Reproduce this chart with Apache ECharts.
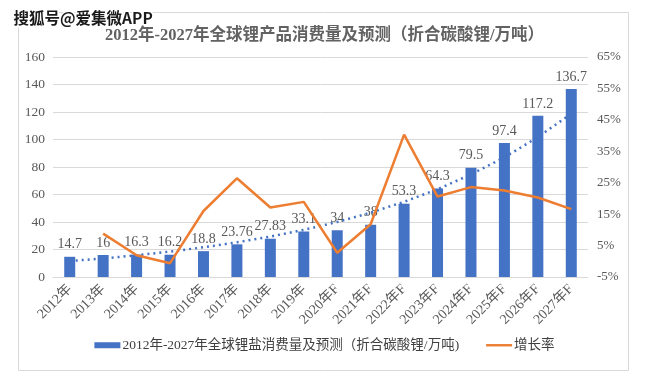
<!DOCTYPE html>
<html>
<head>
<meta charset="utf-8">
<script src="https://cdn.jsdelivr.net/npm/echarts@6/dist/echarts.min.js"></script>
<style>
html,body{margin:0;padding:0;background:#fff;}
#chart{width:649px;height:378px;}
</style>
</head>
<body>
<div id="chart"></div>
<script>
const categories = ['2012年','2013年','2014年','2015年','2016年','2017年','2018年','2019年','2020年F','2021年F','2022年F','2023年F','2024年F','2025年F','2026年F','2027年F'];
const consumption = [14.7, 16, 16.3, 16.2, 18.8, 23.76, 27.83, 33.1, 34, 38, 53.3, 64.3, 79.5, 97.4, 117.2, 136.7];
const growthRate = [null, 8.8, 1.9, -0.6, 16.0, 26.4, 17.1, 18.9, 2.7, 11.8, 40.3, 20.6, 23.6, 22.5, 20.3, 16.6];
const trendValues = [11.6, 13.5, 15.8, 18.5, 21.6, 25.2, 29.4, 34.3, 40, 46.8, 54.7, 63.8, 74.6, 87, 101.7, 118.8];
const barName = '2012年-2027年全球锂盐消费量及预测（折合碳酸锂/万吨)';
const lineName = '增长率';
const titleText = '2012年-2027年全球锂产品消费量及预测（折合碳酸锂/万吨）';
const watermark = '搜狐号@爱集微APP';

const FONT = "'Liberation Serif', 'Noto Sans CJK SC', serif";
const GRAY = '#595959';

const chart = echarts.init(document.getElementById('chart'), null, {renderer: 'canvas'});
chart.setOption({
  animation: false,
  backgroundColor: '#fff',
  title: {
    text: titleText,
    left: 'center',
    top: 22,
    textStyle: {fontFamily: FONT, fontSize: 16.5, fontWeight: 'bold', color: '#626262'}
  },
  graphic: [
    {type: 'rect', left: 16, top: 10, z: -1, shape: {width: 610, height: 358}, style: {fill: 'none', stroke: '#d9d9d9', lineWidth: 1}},
    {type: 'text', left: 12, top: 9, z: 100, style: {text: watermark, fontSize: 15.5, fontWeight: 'bold', fontFamily: "'Noto Sans CJK SC', sans-serif", fill: '#1a1a1a', stroke: '#fff', lineWidth: 3}}
  ],
  legend: {
    bottom: 21,
    left: 'center',
    itemGap: 27,
    itemWidth: 26,
    itemHeight: 6,
    textStyle: {fontFamily: FONT, fontSize: 13.5, color: '#404040', padding: [0,0,0,-3]},
    data: [
      {name: barName, icon: 'rect'},
      {name: lineName, icon: 'path://M0,0L26,0L26,2.4L0,2.4Z'}
    ]
  },
  grid: {left: 53, right: 61, top: 57, bottom: 101},
  xAxis: {
    type: 'category',
    data: categories,
    axisLine: {lineStyle: {color: '#d9d9d9'}},
    axisTick: {show: false},
    axisLabel: {rotate: 45, fontFamily: FONT, fontSize: 14, color: GRAY, margin: 10, interval: 0}
  },
  yAxis: [
    {
      type: 'value', min: 0, max: 160, interval: 20,
      axisLine: {show: false}, axisTick: {show: false},
      axisLabel: {fontFamily: FONT, fontSize: 13.5, color: GRAY, margin: 8},
      splitLine: {lineStyle: {color: '#d9d9d9'}}
    },
    {
      type: 'value', min: -5, max: 65, interval: 10,
      axisLine: {show: false}, axisTick: {show: false},
      axisLabel: {fontFamily: FONT, fontSize: 13, color: GRAY, margin: 9, formatter: '{value}%'},
      splitLine: {show: false}
    }
  ],
  series: [
    {
      name: barName,
      type: 'bar',
      data: consumption,
      barWidth: 11,
      itemStyle: {color: '#4472C4'},
      label: {show: true, position: 'top', distance: 5, fontFamily: FONT, fontSize: 14, color: GRAY}
    },
    {
      name: 'trend',
      type: 'line',
      data: trendValues,
      symbol: 'none',
      z: 3,
      lineStyle: {color: '#4472C4', width: 2.5, type: [2, 4]},
      silent: true
    },
    {
      name: lineName,
      type: 'line',
      yAxisIndex: 1,
      data: growthRate,
      symbol: 'none',
      z: 4,
      itemStyle: {color: '#ED7D31'},
      lineStyle: {color: '#ED7D31', width: 2.5}
    }
  ]
});
</script>
</body>
</html>
